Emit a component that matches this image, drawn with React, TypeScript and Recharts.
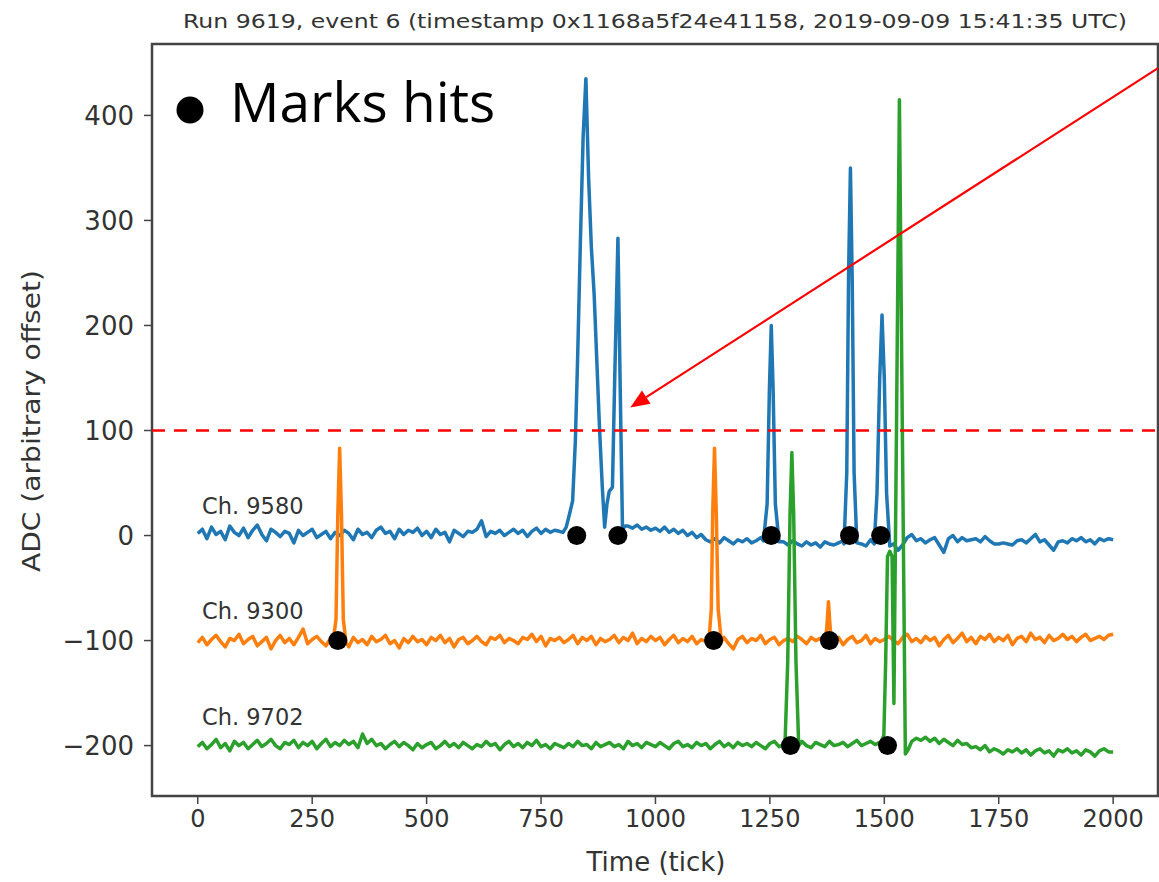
import {
  ComposedChart,
  Line,
  Scatter,
  XAxis,
  YAxis,
  ReferenceLine,
  ReferenceArea,
} from "recharts";

// baseline samples every 10 ticks (0..2000), ADC with channel offset
const STEP = 10;

const blueBase = [
  2, 6, -3, 8, 1, 4, -4, 9, 3, 0,
  7, -2, 5, 10, 1, -5, 6, 3, -1, 4,
  2, -7, 5, 0, 3, 6, -2, 1, 4, -3,
  3, 0, 5, 2, -4, 6, 1, 3, -2, 5,
  8, 2, 4, -3, 6, 1, 5, 3, 7, 0,
  4, -2, 6, 1, 3, -6, 5, 2, -1, 4,
  3, 6, 14, -1, 4, 2, 5, 0, 3, 6,
  2, 5, -1, 4, 7, 2, 6, 3, 5, 4,
  3, 12, 33, 170, 380, 274, 165, 45, 8, 30,
  42, 150, 140, 9, 9, 7, 10, 6, 8, 5,
  7, 4, 8, 3, 6, 2, 5, 0, 3, -2,
  1, -4, -6, -3, -7, -2, -5, -8, -4, -6,
  -3, -7, -5, -2, -6, 0, -4, -8, -6, -9,
  -5, -8, -10, -6, -9, -7, -11, -6, -8, -9,
  -7, -5, -8, -9, -6, -8, -10, -4, -7, -9,
  -6, -12, -8, -14, -9, -2, 1, -5, -3, -7,
  -4, -2, -9, -16, -3, 0, -6, -2, -5, -4,
  -3, -6, -1, -5, -8, -8, -7, -8, -9, -5,
  -4, -7, -3, 1, -6, -4, -9, -14, -6, -5,
  -7, -3, -5, -2, -6, -4, -8, -3, -5, -3, -4,
];

const orangeBase = [
  -102, -97, -104, -99, -95, -101, -106, -98, -100, -94,
  -103, -99, -96, -105, -101, -97, -108, -100, -95, -102,
  -98, -104, -97, -89, -103, -99, -96, -101, -105, -98,
  -100, -100, -100, -106, -97, -102, -99, -104, -96, -101,
  -99, -95, -103, -100, -107, -98, -102, -96, -101, -99,
  -104, -97, -100, -95, -102, -98, -106, -99, -97, -103,
  -100, -96, -101, -104, -97, -99, -95, -102, -98, -100,
  -103, -97, -99, -94, -101, -96, -105, -98, -100, -97,
  -102, -99, -95, -103, -97, -100, -96, -104, -98, -101,
  -99, -95, -102, -97, -100, -93, -103, -98, -101, -96,
  -100, -97, -104, -99, -95, -102, -98, -101, -96, -103,
  -99, -101, -100, -100, -100, -97, -103, -108, -99, -96,
  -102, -98, -100, -95, -103, -99, -97, -104, -100, -98,
  -101, -96, -99, -103, -97, -100, -98, -101, -99, -102,
  -97, -104, -99, -96, -102, -100, -95, -103, -98, -101,
  -99, -96, -100, -103, -97, -94, -101, -98, -102, -96,
  -100, -97, -105, -99, -95, -102, -98, -93, -101, -97,
  -103, -96, -99, -94, -101, -97, -100, -95, -104, -98,
  -96, -101, -93, -99, -97, -102, -95, -100, -98, -94,
  -99, -96, -101, -97, -94, -100, -98, -96, -99, -95, -94,
];

const greenBase = [
  -201, -197, -203, -199, -194, -202, -198, -205, -196, -200,
  -197, -203, -199, -195, -201, -198, -194, -200, -203, -197,
  -199, -195, -202, -197, -200, -196, -203, -198, -194, -201,
  -197, -200, -195, -199, -196, -202, -189, -198, -194, -200,
  -198, -203, -199, -196, -201, -197, -200, -204, -198, -202,
  -199, -197, -203, -200, -196, -201, -198, -202, -197, -200,
  -203, -199, -201, -196, -200, -198, -204, -199, -196, -201,
  -198, -202, -197, -200, -195, -201, -199, -203, -198, -200,
  -202, -198, -201, -196, -200, -199, -203, -197, -201, -199,
  -197, -201, -199, -203, -196, -200, -198, -202, -197, -199,
  -201, -197, -200, -203, -198, -196, -201, -199, -202, -197,
  -200, -198, -203, -199, -196, -201, -198, -202, -197, -200,
  -198, -201, -197, -200, -203, -198, -196, -201, -199, -200,
  -201, -198, -196, -200, -202, -197, -199, -201, -196, -200,
  -199, -197, -201, -198, -195, -200, -198, -196, -199, -197,
  -200, -200, -200, -200, -200, -203, -196, -193, -195, -192,
  -196, -193, -198, -194, -197, -200, -195, -199, -198, -202,
  -201, -204, -200, -206, -203, -205, -208, -204, -206, -203,
  -207, -204, -209, -205, -203, -207, -205, -210, -204, -206,
  -203, -207, -205, -209, -204, -206, -210, -205, -203, -206, -206,
];

// pulses, [tick, adc]
const bluePulses: [number, number][][] = [
  [[798, 3], [805, 8], [812, 20], [819, 33], [825, 90], [830, 170], [836, 280], [842, 380], [848, 435], [854, 340], [860, 274], [866, 230], [872, 165], [878, 100], [884, 45], [889, 8], [894, 30], [899, 42], [906, 46], [911, 150], [918, 283], [923, 140], [928, 6], [934, 9]],
  [[1236, -5], [1244, 30], [1249, 140], [1253, 200], [1257, 140], [1262, 30], [1270, -6]],
  [[1412, -8], [1418, 60], [1422, 250], [1426, 350], [1430, 240], [1434, 60], [1440, -7]],
  [[1478, -8], [1484, 40], [1490, 150], [1495, 210], [1500, 150], [1505, 40], [1512, -10]],
];

const orangePulses: [number, number][][] = [
  [[296, -100], [302, -80], [306, 20], [310, 83], [314, 20], [318, -80], [324, -102]],
  [[1117, -99], [1122, -70], [1125, 20], [1129, 83], [1133, 20], [1137, -70], [1144, -101]],
  [[1368, -101], [1374, -90], [1378, -63], [1382, -90], [1387, -100]],
];

const greenPulses: [number, number][][] = [
  [[1283, -199], [1289, -120], [1294, 20], [1298, 79], [1302, 20], [1307, -120], [1313, -200]],
  [[1492, -198], [1499, -190], [1503, -120], [1507, -20], [1512, -15], [1517, -20], [1521, -160], [1527, 120], [1533, 415], [1539, 120], [1546, -208], [1552, -204]],
];

const blueHits = [828, 918, 1253, 1424, 1492];
const orangeHits = [306, 1127, 1380];
const greenHits = [1295, 1507];

const xTicks = [0, 250, 500, 750, 1000, 1250, 1500, 1750, 2000];
const yTicks = [-200, -100, 0, 100, 200, 300, 400];

const THRESHOLD = 100;

function buildSeries(base: number[], pulses: [number, number][][]) {
  const spans = pulses.map((p) => [p[0][0], p[p.length - 1][0]]);
  const pts = base
    .map((v, i) => ({ t: i * STEP, v }))
    .filter((p) => !spans.some(([a, b]) => p.t >= a && p.t <= b));
  pulses.forEach((pk) => pk.forEach(([t, v]) => pts.push({ t, v })));
  return pts.sort((a, b) => a.t - b.t);
}

const blue = buildSeries(blueBase, bluePulses);
const orange = buildSeries(orangeBase, orangePulses);
const green = buildSeries(greenBase, greenPulses);

const hits = [
  ...blueHits.map((t) => ({ t, v: 0 })),
  ...orangeHits.map((t) => ({ t, v: -100 })),
  ...greenHits.map((t) => ({ t, v: -200 })),
];

const fmt = (v: number) => (v < 0 ? "\u2212" + Math.abs(v) : String(v));

const Arrow = (p: any) => {
  const { x1, y1, x2, y2 } = p;
  if (x1 == null) return <g />;
  const dx = x2 - x1;
  const dy = y2 - y1;
  const len = Math.sqrt(dx * dx + dy * dy);
  const ux = dx / len;
  const uy = dy / len;
  const hl = 19;
  const hw = 8;
  const bx = x2 - ux * hl;
  const by = y2 - uy * hl;
  return (
    <g>
      <line x1={x1} y1={y1} x2={bx} y2={by} stroke="#f00" strokeWidth={2.2} />
      <polygon
        points={`${x2},${y2} ${bx - uy * hw},${by + ux * hw} ${bx + uy * hw},${by - ux * hw}`}
        fill="#f00"
      />
    </g>
  );
};

const textColor = "#333";

export default function App() {
  return (
    <div style={{ position: "absolute", left: 0, top: 0, width: 1159, height: 882, background: "#fff" }}>
      <ComposedChart
        width={1159}
        height={882}
        margin={{ top: 44, right: 1, bottom: 26, left: 0 }}
      >
        <XAxis
          dataKey="t"
          type="number"
          domain={[-100, 2098]}
          ticks={xTicks}
          allowDataOverflow
          axisLine={false}
          tickLine={{ stroke: "#444", strokeWidth: 1.5 }}
          tickSize={8}
          tickMargin={6}
          height={60}
          tick={{ fill: textColor, fontSize: 24, fontFamily: "DejaVu Sans" }}
        />
        <YAxis
          dataKey="v"
          type="number"
          domain={[-248, 468]}
          ticks={yTicks}
          allowDataOverflow
          axisLine={false}
          tickLine={{ stroke: "#444", strokeWidth: 1.5 }}
          tickSize={8}
          tickMargin={10}
          width={152}
          tickFormatter={fmt}
          tick={{ fill: textColor, fontSize: 26, fontFamily: "DejaVu Sans" }}
        />
        <Line data={blue} dataKey="v" stroke="#1f77b4" strokeWidth={3.5} strokeLinejoin="round" dot={false} isAnimationActive={false} />
        <Line data={orange} dataKey="v" stroke="#ff7f0e" strokeWidth={3.5} strokeLinejoin="round" dot={false} isAnimationActive={false} />
        <Line data={green} dataKey="v" stroke="#2ca02c" strokeWidth={3.5} strokeLinejoin="round" dot={false} isAnimationActive={false} />
        <Scatter
          data={hits}
          dataKey="v"
          fill="#000"
          isAnimationActive={false}
          shape={(p: any) => <circle cx={p.cx} cy={p.cy} r={9.5} fill="#000" />}
        />
        <ReferenceLine y={THRESHOLD} stroke="#f00" strokeWidth={2.5} strokeDasharray="13 9" />
        <ReferenceLine
          segment={[{ x: 2098, y: 445 }, { x: 945, y: 122 }]}
          ifOverflow="visible"
          shape={Arrow}
        />
        <ReferenceArea
          x1={-100}
          x2={2098}
          y1={-248}
          y2={468}
          fill="none"
          fillOpacity={0}
          stroke="#444"
          strokeWidth={2.5}
          ifOverflow="visible"
        />
      </ComposedChart>
      <svg
        width={1159}
        height={882}
        style={{ position: "absolute", left: 0, top: 0, pointerEvents: "none" }}
      >
        <text
          x={655}
          y={28}
          textAnchor="middle"
          fontFamily="DejaVu Sans"
          fontSize={19}
          fill={textColor}
          textLength={944}
          lengthAdjust="spacingAndGlyphs"
        >
          Run 9619, event 6 (timestamp 0x1168a5f24e41158, 2019-09-09 15:41:35 UTC)
        </text>
        <text
          x={0}
          y={0}
          transform="translate(40 421) rotate(-90)"
          textAnchor="middle"
          fontFamily="DejaVu Sans"
          fontSize={24}
          fill={textColor}
          textLength={302}
          lengthAdjust="spacingAndGlyphs"
        >
          ADC (arbitrary offset)
        </text>
        <text x={656} y={871} textAnchor="middle" fontFamily="DejaVu Sans" fontSize={26} fill={textColor}>
          Time (tick)
        </text>
        <text x={202} y={514} fontFamily="DejaVu Sans" fontSize={22.5} fill={textColor}>Ch. 9580</text>
        <text x={202} y={619} fontFamily="DejaVu Sans" fontSize={22.5} fill={textColor}>Ch. 9300</text>
        <text x={202} y={725} fontFamily="DejaVu Sans" fontSize={22.5} fill={textColor}>Ch. 9702</text>
        <circle cx={190} cy={110} r={13.5} fill="#000" />
        <text x={230} y={122} fontFamily="Open Sans" fontSize={55} fill="#000">
          Marks hits
        </text>
      </svg>
    </div>
  );
}
